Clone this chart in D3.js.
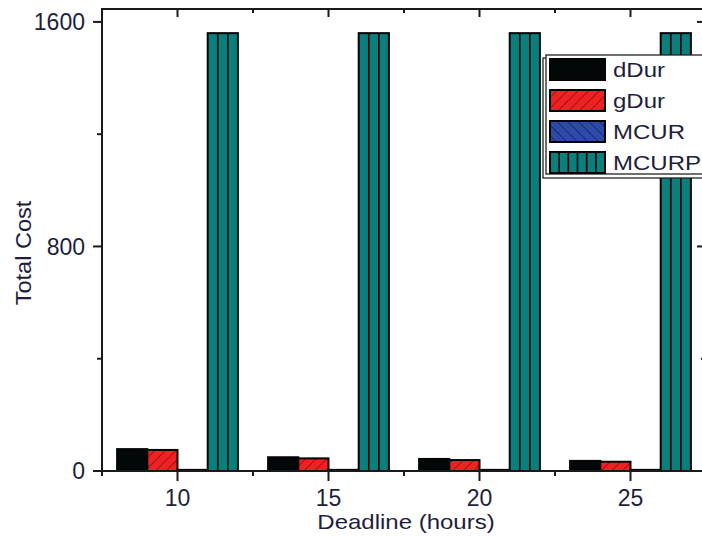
<!DOCTYPE html>
<html>
<head>
<meta charset="utf-8">
<script src="https://cdn.jsdelivr.net/npm/d3@7"></script>
<style>
  html, body { margin: 0; padding: 0; background: #fff; }
  svg { display: block; }
  text { font-family: "Liberation Sans", Arial, sans-serif; }
</style>
</head>
<body>
<svg id="chart" width="702" height="536"></svg>
<script>
// ---- data ----
const categories = [10, 15, 20, 25];
const seriesNames = ["dDur", "gDur", "MCUR", "MCURP"];
const dDur  = [78, 49, 43, 36];
const gDur  = [75, 45, 39, 33];
const MCUR  = [4, 4, 4, 4];
const MCURP = [1560, 1560, 1560, 1560];
const yTicks = [0, 800, 1600];
const yMinorTicks = [400, 1200];
const xMinorTicks = [7.5, 12.5, 17.5, 22.5];
const xLabel = "Deadline (hours)";
const yLabel = "Total Cost";

const seriesValues = [dDur, gDur, MCUR, MCURP];

(function () {
// ---- layout ----
const svg = d3.select("#chart");
const pL = 102, pR = 706, pT = 9, pB = 471;
const x = d3.scaleLinear().domain([7.5, 27.5]).range([pL, pR]);
const y = d3.scaleLinear().domain([0, 1646]).range([pB, pT]);
const textColor = "#1e1e3c";

// ---- patterns ----
const defs = svg.append("defs");
function hatch(id, bg, lineColor, angle, spacing) {
  const p = defs.append("pattern").attr("id", id)
    .attr("patternUnits", "userSpaceOnUse")
    .attr("width", spacing).attr("height", spacing)
    .attr("patternTransform", `rotate(${angle})`);
  p.append("rect").attr("width", spacing).attr("height", spacing).attr("fill", bg);
  p.append("line").attr("x1", 0).attr("y1", 0).attr("x2", 0).attr("y2", spacing)
    .attr("stroke", lineColor).attr("stroke-width", 1.6);
}
hatch("hatchRed", "#ee2222", "#8e1010", 45, 7.5);
hatch("hatchBlue", "#2c4aa6", "#17226a", -45, 7.5);

const fills = ["#040707", "url(#hatchRed)", "url(#hatchBlue)", "#0b7f7c"];

// ---- bars ----
const barsG = svg.append("g");
seriesValues.forEach((vals, si) => {
  categories.forEach((c, ci) => {
    const x0 = x(c - 2 + si), x1 = x(c - 1 + si);
    const yv = y(vals[ci]);
    barsG.append("rect")
      .attr("x", x0).attr("y", yv)
      .attr("width", x1 - x0).attr("height", y(0) - yv)
      .attr("fill", fills[si])
      .attr("stroke", "#050505").attr("stroke-width", 2);
    if (si === 3) {
      for (let k = 1; k < 3; k++) {
        const lx = x0 + (x1 - x0) * k / 3;
        barsG.append("line").attr("x1", lx).attr("x2", lx)
          .attr("y1", yv).attr("y2", y(0))
          .attr("stroke", "#050505").attr("stroke-width", 1.6);
      }
    }
  });
});

// ---- axes frame ----
const axisColor = "#1a1a1a";
const axG = svg.append("g").attr("stroke", axisColor).attr("stroke-width", 2).attr("fill", "none");
axG.append("line").attr("x1", pL).attr("x2", pL).attr("y1", pT).attr("y2", pB + 1);
axG.append("line").attr("x1", pR).attr("x2", pR).attr("y1", pT).attr("y2", pB + 1);
axG.append("line").attr("x1", pL - 1).attr("x2", pR + 1).attr("y1", pT).attr("y2", pT);
axG.append("line").attr("x1", pL - 1).attr("x2", pR + 1).attr("y1", pB).attr("y2", pB);

categories.forEach(c => {
  axG.append("line").attr("x1", x(c)).attr("x2", x(c)).attr("y1", pB).attr("y2", pB + 10);
  axG.append("line").attr("x1", x(c)).attr("x2", x(c)).attr("y1", pT).attr("y2", pT + 8);
});
xMinorTicks.forEach(c => {
  axG.append("line").attr("x1", x(c)).attr("x2", x(c)).attr("y1", pB).attr("y2", pB + 5);
  axG.append("line").attr("x1", x(c)).attr("x2", x(c)).attr("y1", pT).attr("y2", pT + 4);
});
yTicks.forEach(v => {
  axG.append("line").attr("x1", pL - 9).attr("x2", pL).attr("y1", y(v)).attr("y2", y(v));
  axG.append("line").attr("x1", pR - 9).attr("x2", pR).attr("y1", y(v)).attr("y2", y(v));
});
yMinorTicks.forEach(v => {
  axG.append("line").attr("x1", pL - 5).attr("x2", pL).attr("y1", y(v)).attr("y2", y(v));
  axG.append("line").attr("x1", pR - 5).attr("x2", pR).attr("y1", y(v)).attr("y2", y(v));
});

// tick labels
svg.append("g").selectAll("text").data(categories).join("text")
  .attr("x", d => x(d)).attr("y", 506)
  .attr("text-anchor", "middle").attr("font-size", 23).attr("fill", textColor)
  .text(d => d);
svg.append("g").selectAll("text").data(yTicks).join("text")
  .attr("x", 85).attr("y", d => y(d)).attr("dy", "0.36em")
  .attr("text-anchor", "end").attr("font-size", 23).attr("fill", textColor)
  .text(d => d);

// axis titles
svg.append("text")
  .attr("transform", `translate(${(pL + pR) / 2 + 2},529) scale(1.2,1)`)
  .attr("text-anchor", "middle").attr("font-size", 20).attr("fill", textColor)
  .text(xLabel);
svg.append("text")
  .attr("transform", `translate(31,253) rotate(-90) scale(1.07,1)`)
  .attr("text-anchor", "middle").attr("font-size", 22).attr("fill", textColor)
  .text(yLabel);

// ---- legend ----
const lg = svg.append("g");
lg.append("rect").attr("x", 543).attr("y", 58).attr("width", 200).attr("height", 120)
  .attr("fill", "#fff").attr("stroke", "#222").attr("stroke-width", 1.3);
lg.append("rect").attr("x", 546).attr("y", 55).attr("width", 200).attr("height", 119)
  .attr("fill", "#fff").attr("stroke", "#222").attr("stroke-width", 1.3);
seriesNames.forEach((name, i) => {
  const sy = 59 + i * 31;
  const sw = 55, sh = 21;
  lg.append("rect").attr("x", 550).attr("y", sy).attr("width", sw).attr("height", sh)
    .attr("fill", fills[i]).attr("stroke", "#050505").attr("stroke-width", 2);
  if (i === 3) {
    for (let k = 1; k < 6; k++) {
      const lx = 550 + sw * k / 6;
      lg.append("line").attr("x1", lx).attr("x2", lx).attr("y1", sy).attr("y2", sy + sh)
        .attr("stroke", "#050505").attr("stroke-width", 1.6);
    }
  }
  lg.append("text")
    .attr("transform", `translate(613,${sy + 18}) scale(1.2,1)`)
    .attr("font-size", 20).attr("fill", textColor)
    .text(name);
});
})();
</script>
</body>
</html>
